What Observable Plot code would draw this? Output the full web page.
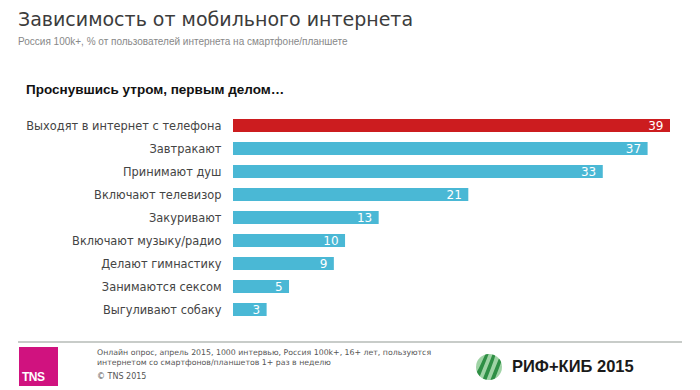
<!DOCTYPE html>
<html><head><meta charset="utf-8">
<script src="https://cdn.jsdelivr.net/npm/d3@7"></script>
<script src="https://cdn.jsdelivr.net/npm/@observablehq/plot@0.6"></script>
<style>
html,body{margin:0;padding:0;background:#fff;}
#wrap{position:relative;width:700px;height:390px;overflow:hidden;font-family:"DejaVu Sans",Verdana,sans-serif;}
#chart{position:absolute;left:0;top:0;}
.t{position:absolute;white-space:nowrap;}
</style></head>
<body>
<div id="wrap">
  <div id="chart"></div>
  <div class="t" style="left:18px;top:8px;font-size:19px;color:#3c3c3c;">Зависимость от мобильного интернета</div>
  <div class="t" style="left:18px;top:36px;font-size:10px;color:#888;font-family:'Liberation Sans',Arial,sans-serif;">Россия 100k+, % от пользователей интернета на смартфоне/планшете</div>
  <div class="t" style="left:26px;top:82px;font-size:13.5px;font-weight:bold;color:#111;font-family:'Liberation Sans',Arial,sans-serif;">Проснувшись утром, первым делом…</div>
  <div style="position:absolute;left:18px;top:341px;width:664px;height:2px;background:#c8ccc9;"></div>
  <div style="position:absolute;left:19px;top:347px;width:39px;height:39px;background:#d0127f;"></div>
  <div class="t" style="left:22px;top:370px;font-size:12px;font-weight:bold;color:#fff;font-family:'Liberation Sans',Arial,sans-serif;letter-spacing:-0.5px;">TNS</div>
  <div class="t" style="left:97px;top:348px;font-size:7.8px;line-height:9.5px;color:#555;">Онлайн опрос, апрель 2015, 1000 интервью, Россия 100k+, 16+ лет, пользуются<br>интернетом со смартфонов/планшетов 1+ раз в неделю</div>
  <div class="t" style="left:97px;top:372px;font-size:8px;color:#555;">© TNS 2015</div>
  <svg style="position:absolute;left:474px;top:353px;" width="30" height="28" viewBox="0 0 30 28">
    <defs><clipPath id="cp"><ellipse cx="15" cy="14" rx="13" ry="13"/></clipPath></defs>
    <g clip-path="url(#cp)">
      <rect x="0" y="0" width="30" height="28" fill="#9fd3a5"/>
      <g fill="#2f8f45">
        <path d="M0,24 C6,14 9,6 12,0 L15,0 C12,8 8,18 4,28 L0,28 Z"/>
        <path d="M8,28 C12,18 16,8 19,0 L22,0 C20,8 16,18 12,28 Z"/>
        <path d="M16,28 C20,18 24,8 27,0 L30,0 C28,8 24,18 20,28 Z"/>
      </g>
    </g>
  </svg>
  <div class="t" style="left:512px;top:357px;font-size:16.5px;font-weight:bold;color:#1a1a1a;font-family:'Liberation Sans',Arial,sans-serif;">РИФ+КИБ 2015</div>
</div>
<script>
const categories = [
  "Выходят в интернет с телефона",
  "Завтракают",
  "Принимают душ",
  "Включают телевизор",
  "Закуривают",
  "Включают музыку/радио",
  "Делают гимнастику",
  "Занимаются сексом",
  "Выгуливают собаку"
];
const values = [39, 37, 33, 21, 13, 10, 9, 5, 3];
const highlighted = ["Выходят в интернет с телефона"];

const data = categories.map((c, i) => ({category: c, value: values[i]}));

const chart = Plot.plot({
  width: 700,
  height: 390,
  marginLeft: 233,
  marginRight: 30,
  marginTop: 106,
  marginBottom: 61,
  style: {fontFamily: "DejaVu Sans, Verdana, sans-serif", color: "#444", background: "transparent"},
  x: {domain: [0, 39], axis: null},
  y: {domain: categories, padding: 0.44, axis: null},
  marks: [
    Plot.barX(data, {x: "value", y: "category", fill: d => highlighted.includes(d.category) ? "#cc1c1f" : "#4ab8d5"}),
    Plot.text(data, {x: "value", y: "category", text: d => String(d.value), textAnchor: "end", dx: -7, fill: "white", fontSize: 12}),
    Plot.axisY({tickSize: 0, tickPadding: 12, fontSize: 11.4, label: null})
  ]
});
document.getElementById("chart").appendChild(chart);
</script>
</body></html>
